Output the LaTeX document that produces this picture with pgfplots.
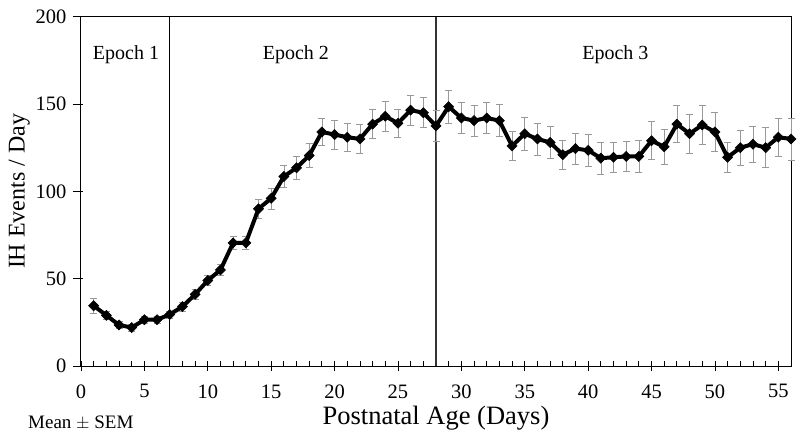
\documentclass[border=0pt]{standalone}
\usepackage{pgfplots}
\pgfplotsset{compat=1.18}
\usepackage{pgfplotstable}
\usepackage{fontspec}
\setmainfont{Liberation Serif}
\pgfplotstableread{
x y e
1 34.5 4.5
2 29 2.5
3 23.5 2
4 22 2
5 26.5 2
6 26.5 2
7 29.5 2
8 34 2.5
9 41 3
10 49 3
11 55 3
12 70.5 3.8
13 70.5 3.8
14 90 5.5
15 96 6
16 108.5 6.2
17 113.5 6.7
18 120.5 7
19 134 7.6
20 132.5 8.3
21 131 8.1
22 130 8.3
23 138.5 8.3
24 143 8.6
25 139 8.2
26 146.5 8.6
27 145 8.6
28 137.5 8.8
29 148.5 9.5
30 142 9
31 140.5 8.8
32 142 9
33 140.5 9.1
34 126 8.1
35 133 9.5
36 130 9.2
37 128 9.2
38 121 8.3
39 124.5 8.9
40 123.5 9.2
41 119 9
42 119.5 8.6
43 120 8.8
44 120 9
45 129 10.9
46 125.5 10.2
47 138.5 10.5
48 133 11
49 138 11.1
50 134 11.1
51 119.5 8.8
52 125 10
53 127 10.5
54 125 11.4
55 131 11
56 130 12
}\datatable
\begin{document}
\begin{tikzpicture}
\begin{axis}[
  scale only axis, width=710pt, height=349.3pt,
  xmin=0, xmax=56, ymin=0, ymax=200,
  clip=false,
  axis line style={line width=1pt, black},
  xtick={0,5,...,55}, ytick={0,50,...,200},
  minor x tick num=4,
  xtick pos=bottom, ytick pos=left,
  tick align=center,
  major tick length=10pt, minor tick length=5pt,
  minor tick style={yshift=2.5pt},
  ytick style={xshift=-3pt},
  tick style={black, line width=0.8pt},
  /pgf/number format/assume math mode=true,
  ticklabel style={font=\fontsize{20.5}{24}\selectfont},
  xticklabel style={yshift=-10pt},
  yticklabel style={xshift=-6pt},
  xlabel={Postnatal Age (Days)},
  ylabel={IH Events / Day},
  xlabel style={font=\fontsize{26.5}{30}\selectfont, yshift=-1pt},
  ylabel style={font=\fontsize{24}{28}\selectfont, yshift=-1pt},
]
\draw[black, line width=1pt] (axis cs:7,0) -- (axis cs:7,200);
\draw[black!80, line width=1.2pt] (axis cs:28,0) -- (axis cs:28,200);
\node[font=\fontsize{20}{24}\selectfont] at (axis cs:3.55,178) {Epoch 1};
\node[font=\fontsize{20}{24}\selectfont] at (axis cs:16.95,178) {Epoch 2};
\node[font=\fontsize{20}{24}\selectfont] at (axis cs:42.15,178) {Epoch 3};
\addplot[draw=none, mark=none,
  error bars/.cd, y dir=both, y explicit,
  error bar style={black!40, line width=0.6pt},
  error mark options={black!40, rotate=90, mark size=3.5pt, line width=0.6pt}]
  table[x=x, y=y, y error=e] {\datatable};
\addplot[black, line width=4pt, mark=square*, mark size=3.6pt,
  mark options={solid, fill=black, line width=0.5pt, rotate=45}]
  table[x=x, y=y] {\datatable};
\node[anchor=base west, font=\fontsize{19}{22}\selectfont, inner sep=0pt]
  at ([shift={(-53pt,-62pt)}]rel axis cs:0,0) {Mean $\pm$ SEM};
\end{axis}
\pgfresetboundingbox
\path[use as bounding box] (current axis.south west) ++(-81pt,-70pt) rectangle ([shift={(9pt,16.7pt)}]current axis.north east);
\end{tikzpicture}
\end{document}
